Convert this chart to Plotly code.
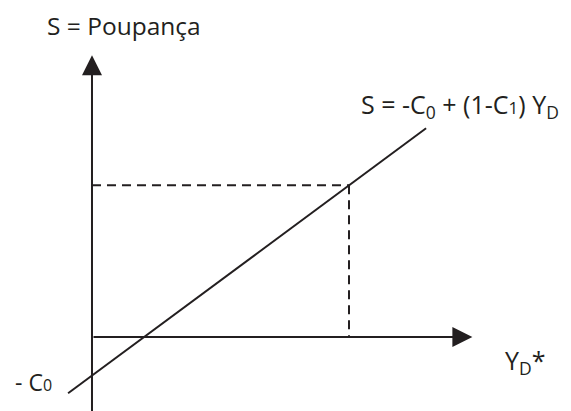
import plotly.graph_objects as go

# Model parameters (savings function S = -C0 + (1-C1) YD)
C0 = 1.5
C1 = 0.26
YD_line = [-0.93, 13.0]          # extent of the savings line
YD_star = 10.0                   # equilibrium disposable income
x_axis_end = 14.8                # arrow tip of YD axis
y_axis_end = 10.96               # arrow tip of S axis
y_axis_start = -3.19
x_range = [-3.268, 18.949]
y_range = [-3.191, 12.802]

S_line = [-C0 + (1 - C1) * v for v in YD_line]
S_star = -C0 + (1 - C1) * YD_star

ink = "#231f20"
title_font = dict(family="Open Sans", size=24.5, color=ink)
big = dict(family="Open Sans", size=25, color=ink)
mid = dict(family="Open Sans", size=23, color=ink)

fig = go.Figure()

# savings line
fig.add_trace(go.Scatter(x=YD_line, y=S_line, mode="lines",
                         line=dict(color=ink, width=2), hoverinfo="skip"))
# dashed guides
fig.add_trace(go.Scatter(x=[0, YD_star], y=[S_star, S_star], mode="lines",
                         line=dict(color=ink, width=2, dash="9px,6px"), hoverinfo="skip"))
fig.add_trace(go.Scatter(x=[YD_star, YD_star], y=[S_star, 0], mode="lines",
                         line=dict(color=ink, width=2, dash="9px,6px"), hoverinfo="skip"))

# axes with arrows
fig.add_annotation(x=0, y=y_axis_end, ax=0, ay=y_axis_start, xref="x", yref="y",
                   axref="x", ayref="y", showarrow=True, arrowhead=2, arrowsize=2,
                   arrowwidth=2, arrowcolor=ink, text="", standoff=0)
fig.add_annotation(x=x_axis_end, y=0, ax=0, ay=0, xref="x", yref="y",
                   axref="x", ayref="y", showarrow=True, arrowhead=2, arrowsize=2,
                   arrowwidth=2, arrowcolor=ink, text="", standoff=0)

# labels
fig.add_annotation(x=1.245, y=12.14, text="S = Poupança", showarrow=False,
                   xanchor="center", yanchor="middle", font=title_font, borderpad=0)
fig.add_annotation(x=10.43, y=9.0,
                   text="S = -C<sub>0</sub> + (1-C<span style='font-size:17px'>1</span>) Y<sub>D</sub>",
                   showarrow=False, xanchor="left", yanchor="middle", font=big, borderpad=0)
fig.add_annotation(x=-3.074, y=-1.751, text="- C<span style='font-size:16px'>0</span>",
                   showarrow=False, xanchor="left", yanchor="middle", font=mid)
fig.add_annotation(x=15.99, y=-0.95, text="Y<sub>D</sub>*", showarrow=False,
                   xanchor="left", yanchor="middle", font=big)

fig.update_layout(width=571, height=411, margin=dict(l=0, r=0, t=0, b=0),
                  plot_bgcolor="white", paper_bgcolor="white", showlegend=False)
fig.update_xaxes(range=x_range, visible=False)
fig.update_yaxes(range=y_range, visible=False)

fig.write_html("out.html", config={"displayModeBar": False})
